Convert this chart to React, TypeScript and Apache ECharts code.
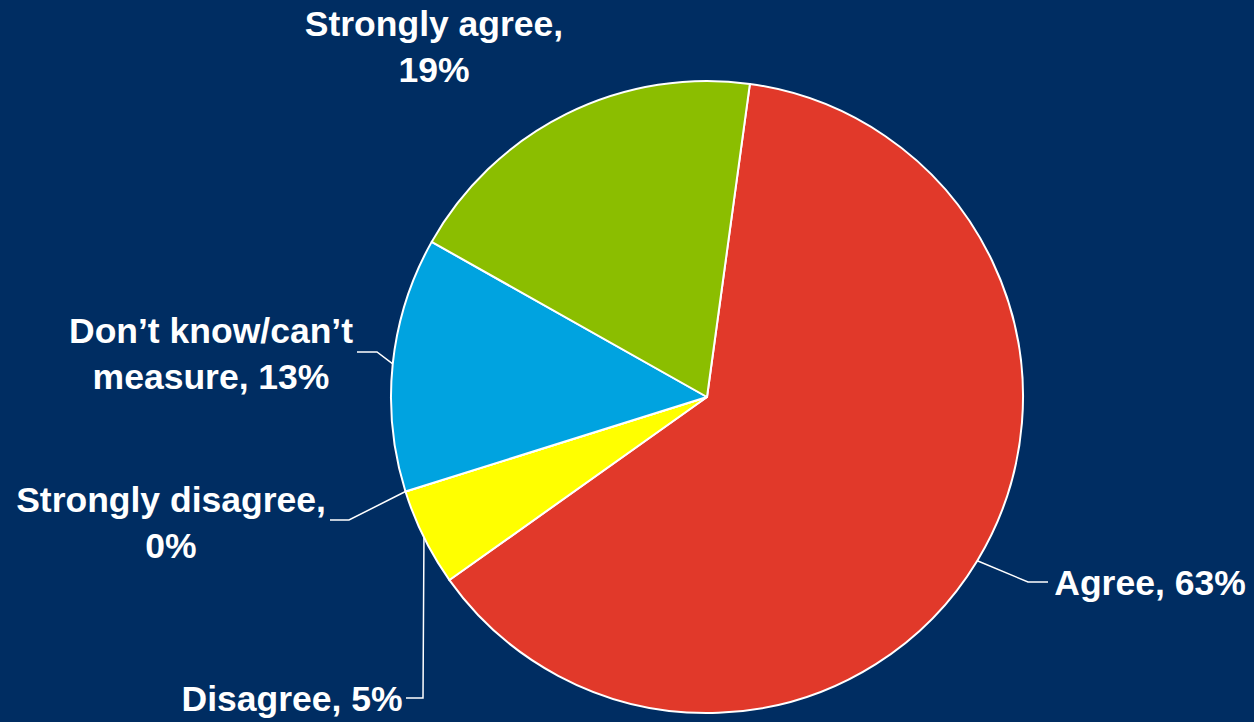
import React, { useEffect, useRef } from "react";
import * as echarts from "echarts";

const categories = ["Agree", "Disagree", "Strongly disagree", "Don’t know/can’t measure", "Strongly agree"];
const values = [63, 5, 0, 13, 19];
const colors = ["#E1392A", "#FFFF00", "#C0C0C0", "#00A3E0", "#8BBE00"];

// where each label's text is broken into two lines (null = single line)
const labelBreaks: (string | null)[] = [null, null, "Strongly disagree,\n", "Don’t know/can’t\nmeasure, ", "Strongly agree,\n"];

// label placement (center of text block) and leader elbow/end points
const labelPlacement = [
  { x: 1150, y: 583, line: [[1028, 582], [1048, 582]] },
  { x: 292, y: 699, line: [[423, 698], [406, 698]] },
  { x: 171, y: 523, line: [[349, 520], [330, 520]] },
  { x: 211, y: 354, line: [[377, 352], [357, 352]] },
  { x: 434, y: 47, line: null },
];

export default function App() {
  const ref = useRef<HTMLDivElement>(null);
  useEffect(() => {
    if (!ref.current) return;
    const chart = echarts.init(ref.current, undefined, { renderer: "svg" });
    const data = categories.map((name, i) => ({
      name,
      value: values[i],
      itemStyle: { color: colors[i] },
      labelLine: { show: labelPlacement[i].line !== null },
    }));
    chart.setOption({
      animation: false,
      backgroundColor: "#002D62",
      series: [
        {
          type: "pie",
          center: [707, 397],
          radius: 316,
          startAngle: 82.2,
          clockwise: true,
          minAngle: 0,
          avoidLabelOverlap: false,
          stillShowZeroSum: true,
          data,
          itemStyle: { borderColor: "#FFFFFF", borderWidth: 2 },
          label: {
            show: true,
            position: "outside",
            color: "#FFFFFF",
            fontFamily: "Liberation Sans, Arial, sans-serif",
            fontWeight: "bold",
            fontSize: 35.5,
            lineHeight: 46,
            align: "center",
            formatter: (p: any) => {
              const b = labelBreaks[p.dataIndex];
              if (b) return `${b}${p.value}%`;
              return `${p.name}, ${p.value}%`;
            },
          },
          labelLine: {
            show: true,
            lineStyle: { color: "#FFFFFF", width: 1.5 },
          },
          labelLayout: (params: any) => {
            const cfg = labelPlacement[params.dataIndex];
            const out: any = { x: cfg.x, y: cfg.y, align: "center", verticalAlign: "middle" };
            const pts = params.labelLinePoints;
            if (cfg.line && pts && pts[0]) {
              out.labelLinePoints = [pts[0], cfg.line[0], cfg.line[1]];
            }
            return out;
          },
          emphasis: { disabled: true },
        },
      ],
    });
    return () => chart.dispose();
  }, []);
  return (
    <div
      ref={ref}
      style={{ position: "fixed", left: 0, top: 0, width: 1254, height: 722 }}
    />
  );
}
